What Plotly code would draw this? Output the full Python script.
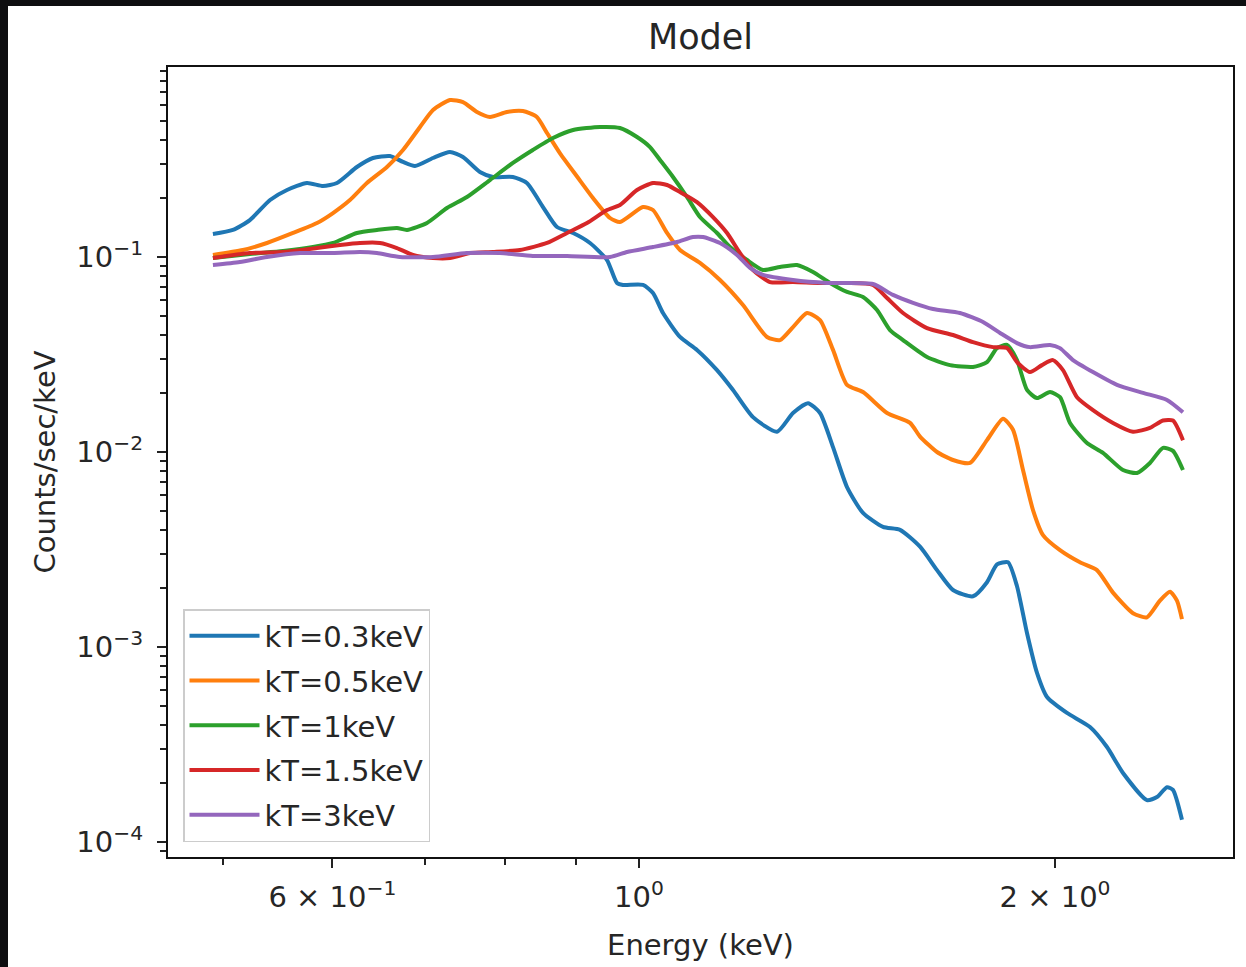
import plotly.graph_objects as go

# ---- data (Energy in keV, Counts/sec/keV) ----
E_03 = [0.4917, 0.5083, 0.5229, 0.5408, 0.5563, 0.5751, 0.5907, 0.6046, 0.6250, 0.6419,
        0.6604, 0.6749, 0.6885, 0.7095, 0.7298, 0.7458, 0.7672, 0.7840, 0.8105, 0.8296,
        0.8522, 0.8723, 0.8960, 0.9216, 0.9481, 0.9640, 0.9737, 1.0067, 1.0236, 1.0408,
        1.0707, 1.1014, 1.1388, 1.1696, 1.2092, 1.2585, 1.2925, 1.3252, 1.3520, 1.3816,
        1.4142, 1.4524, 1.5016, 1.5448, 1.5971, 1.6430, 1.6874, 1.7445, 1.7857, 1.8157,
        1.8493, 1.8772, 1.9087, 1.9408, 1.9734, 2.0402, 2.1199, 2.1808, 2.2397, 2.3310,
        2.3702, 2.4100, 2.4342, 2.4710]
C_03 = [0.1312, 0.1376, 0.1547, 0.1960, 0.2206, 0.2396, 0.2312, 0.2396, 0.2894, 0.3219,
        0.3296, 0.3072, 0.2929, 0.3219, 0.3455, 0.3257, 0.2729, 0.2572, 0.2572, 0.2396,
        0.1804, 0.1425, 0.1328, 0.1180, 0.0965, 0.0736, 0.0719, 0.0719, 0.0654, 0.0516,
        0.0389, 0.0334, 0.0263, 0.0208, 0.0151, 0.0127, 0.01585, 0.0178, 0.01585, 0.0106,
        0.00661, 0.00487, 0.00413, 0.00399, 0.00327, 0.00248, 0.00196, 0.00182, 0.00215, 0.00265,
        0.00272, 0.00205, 0.00118, 0.000736, 0.000554, 0.000459, 0.000389, 0.000307, 0.000226, 0.000164,
        0.000170, 0.000191, 0.000185, 0.000130]

E_05 = [0.4917, 0.5169, 0.5380, 0.5619, 0.5848, 0.6006, 0.6178, 0.6355, 0.6571, 0.6749,
        0.6943, 0.7095, 0.7298, 0.7458, 0.7634, 0.7801, 0.8024, 0.8241, 0.8435, 0.8579,
        0.8767, 0.9019, 0.9262, 0.9529, 0.9688, 1.0067, 1.0236, 1.0478, 1.0707, 1.1069,
        1.1445, 1.1892, 1.2377, 1.2648, 1.2925, 1.3230, 1.3520, 1.3816, 1.4142, 1.4524,
        1.5117, 1.5708, 1.5971, 1.6430, 1.6874, 1.7358, 1.7857, 1.8340, 1.8647, 1.8961,
        1.9279, 1.9603, 2.0166, 2.0849, 2.1447, 2.2027, 2.2773, 2.3310, 2.3820, 2.4221,
        2.4505, 2.4710]
C_05 = [0.1024, 0.1086, 0.1180, 0.1328, 0.1494, 0.1681, 0.1960, 0.2396, 0.2894, 0.3538,
        0.4642, 0.5675, 0.6383, 0.6234, 0.5542, 0.5223, 0.5542, 0.5608, 0.5223, 0.4325,
        0.3400, 0.2587, 0.2007, 0.1585, 0.1512, 0.1804, 0.1742, 0.1328, 0.1086, 0.0932,
        0.0762, 0.0567, 0.0389, 0.0375, 0.0437, 0.0516, 0.0475, 0.0334, 0.0221, 0.0203,
        0.01585, 0.0141, 0.0120, 0.0100, 0.00910, 0.00879, 0.0115, 0.0148, 0.0130, 0.00808,
        0.00504, 0.00375, 0.00314, 0.00272, 0.00248, 0.00190, 0.00149, 0.00142, 0.00173, 0.00192,
        0.00173, 0.00139]

E_1 = [0.4917, 0.5229, 0.5526, 0.5809, 0.6006, 0.6250, 0.6462, 0.6681, 0.6794, 0.7024,
       0.7262, 0.7508, 0.7801, 0.8105, 0.8379, 0.8665, 0.8960, 0.9371, 0.9688, 0.9967,
       1.0185, 1.0356, 1.0583, 1.0832, 1.1069, 1.1388, 1.1638, 1.1972, 1.2295, 1.2648,
       1.3011, 1.3363, 1.3747, 1.4142, 1.4524, 1.4867, 1.5192, 1.5525, 1.6158, 1.6790,
       1.7445, 1.7857, 1.8157, 1.8462, 1.8772, 1.9087, 1.9408, 1.9833, 2.0166, 2.0505,
       2.1093, 2.1663, 2.2397, 2.2926, 2.3427, 2.3940, 2.4342, 2.4751]
C_1 = [0.0988, 0.1036, 0.1073, 0.1125, 0.1180, 0.1328, 0.1376, 0.1409, 0.1376, 0.1494,
       0.1783, 0.2031, 0.2482, 0.3036, 0.3538, 0.4076, 0.4480, 0.4642, 0.4587, 0.4125,
       0.3664, 0.3145, 0.2572, 0.2031, 0.1603, 0.1328, 0.1125, 0.0965, 0.0858, 0.0889,
       0.0910, 0.0838, 0.0736, 0.0662, 0.0624, 0.0535, 0.0422, 0.0375, 0.0307, 0.0279,
       0.0273, 0.0289, 0.0341, 0.0354, 0.0296, 0.0208, 0.0189, 0.0203, 0.0191, 0.0141,
       0.01112, 0.0099, 0.00808, 0.00781, 0.00879, 0.0105, 0.01013, 0.00808]

E_15 = [0.4917, 0.5229, 0.5526, 0.5848, 0.6076, 0.6282, 0.6495, 0.6681, 0.6862, 0.7095,
        0.7298, 0.7546, 0.7840, 0.8200, 0.8579, 0.8870, 0.9170, 0.9481, 0.9688, 0.9967,
        1.0236, 1.0478, 1.0707, 1.1014, 1.1312, 1.1580, 1.1833, 1.2092, 1.2439, 1.2925,
        1.3520, 1.4142, 1.4768, 1.5117, 1.5525, 1.6158, 1.6874, 1.7445, 1.8037, 1.8462,
        1.8772, 1.9183, 1.9570, 1.9932, 2.0267, 2.0745, 2.1305, 2.2027, 2.2773, 2.3427,
        2.3940, 2.4342, 2.4751]
C_15 = [0.0988, 0.1048, 0.1061, 0.1112, 0.1152, 0.1180, 0.1180, 0.1112, 0.1024, 0.0988,
        0.0988, 0.1048, 0.1061, 0.1086, 0.1180, 0.1328, 0.1494, 0.1742, 0.1848, 0.2206,
        0.2396, 0.2340, 0.2154, 0.1914, 0.1603, 0.1328, 0.1048, 0.0858, 0.0744, 0.0744,
        0.0736, 0.0736, 0.0719, 0.0616, 0.0516, 0.0432, 0.0398, 0.0366, 0.0345, 0.0341,
        0.0289, 0.0257, 0.0279, 0.0296, 0.0263, 0.0191, 0.0164, 0.0141, 0.0127, 0.0133,
        0.0145, 0.0145, 0.0115]

E_3 = [0.4917, 0.5143, 0.5380, 0.5685, 0.6006, 0.6282, 0.6462, 0.6715, 0.7095, 0.7508,
       0.7931, 0.8379, 0.8870, 0.9529, 0.9802, 1.0236, 1.0654, 1.0941, 1.1125, 1.1445,
       1.1774, 1.2032, 1.2295, 1.2925, 1.3679, 1.4768, 1.5268, 1.5786, 1.6321, 1.7071,
       1.7738, 1.8248, 1.8772, 1.9183, 1.9833, 2.0166, 2.0607, 2.1305, 2.2174, 2.3156,
       2.4100, 2.4751]
C_3 = [0.0910, 0.0943, 0.1000, 0.1048, 0.1048, 0.1061, 0.1048, 0.1000, 0.1000, 0.1048,
       0.1048, 0.1012, 0.1012, 0.1000, 0.1061, 0.1125, 0.1194, 0.1266, 0.1266, 0.1180,
       0.1024, 0.0879, 0.0809, 0.0762, 0.0736, 0.0727, 0.0639, 0.0582, 0.0541, 0.0516,
       0.0464, 0.0408, 0.0362, 0.0345, 0.0354, 0.0341, 0.0296, 0.0257, 0.0221, 0.0201,
       0.0185, 0.0160]

series_names = ["kT=0.3keV", "kT=0.5keV", "kT=1keV", "kT=1.5keV", "kT=3keV"]
series_E = [E_03, E_05, E_1, E_15, E_3]
series_C = [C_03, C_05, C_1, C_15, C_3]
colors = ["#1f77b4", "#ff7f0e", "#2ca02c", "#d62728", "#9467bd"]

x_tickvals = [0.6, 1, 2]
x_ticktext = ["6 \u00d7 10<sup>\u22121</sup>", "10<sup>0</sup>", "2 \u00d7 10<sup>0</sup>"]
x_minor = [0.5, 0.7, 0.8, 0.9]
y_tickvals = [1e-4, 1e-3, 1e-2, 1e-1]
y_ticktext = ["10<sup>\u22124</sup>", "10<sup>\u22123</sup>", "10<sup>\u22122</sup>", "10<sup>\u22121</sup>"]
y_minor = [9e-5] + [m * 10.0 ** k for k in (-4, -3, -2, -1) for m in range(2, 10)]

FONT = "DejaVu Sans"
TXT = "#262626"

fig = go.Figure()
for i, (name, E, C) in enumerate(zip(series_names, series_E, series_C)):
    fig.add_trace(go.Scatter(
        x=E, y=C, mode="lines", name=name, legendgroup=f"g{i}",
        line=dict(color=colors[i], width=4, shape="spline", smoothing=0.6),
    ))

W, H = 1246, 967
L, R, T, B = 168, 13, 67, 110
pw, ph = W - L - R, H - T - B

fig.update_layout(
    width=W, height=H,
    margin=dict(l=L, r=R, t=T, b=B, autoexpand=False),
    paper_bgcolor="#0e0e10",
    plot_bgcolor="white",
    font=dict(family=FONT, size=29, color=TXT),
    title=dict(text="Model", x=(L + pw / 2) / W, xanchor="center",
               y=1 - 37 / H, yanchor="middle", font=dict(size=35, color=TXT)),
    showlegend=True,
    legend=dict(
        x=(183 - L) / pw, y=(H - B - 842) / ph, xanchor="left", yanchor="bottom",
        bgcolor="rgba(255,255,255,0.85)", bordercolor="#cccccc", borderwidth=1.5,
        font=dict(size=29, color=TXT), tracegroupgap=4, itemwidth=70,
    ),
    shapes=[dict(type="rect", xref="paper", yref="paper", layer="below",
                 x0=(8 - L) / pw, x1=(W + 20 - L) / pw,
                 y0=-(B + 20) / ph, y1=(H - B - 6) / ph,
                 fillcolor="white", line=dict(width=0))],
)

fig.update_xaxes(
    type="log", range=[-0.3408, 0.4298],
    tickmode="array", tickvals=x_tickvals, ticktext=x_ticktext,
    ticks="outside", ticklen=9, tickwidth=2, tickcolor="#222",
    minor=dict(tickmode="array", tickvals=x_minor, ticks="outside", ticklen=6,
               tickwidth=1.6, tickcolor="#222"),
    showline=True, linecolor="#111", linewidth=2.2, mirror=True,
    showgrid=False, zeroline=False, ticklabelstandoff=4,
    title=dict(text="Energy (keV)", standoff=22, font=dict(size=29, color=TXT)),
)
fig.update_yaxes(
    type="log", range=[-4.0769, -0.0256],
    tickmode="array", tickvals=y_tickvals, ticktext=y_ticktext,
    ticks="outside", ticklen=9, tickwidth=2, tickcolor="#222",
    minor=dict(tickmode="array", tickvals=y_minor, ticks="outside", ticklen=6,
               tickwidth=1.6, tickcolor="#222"),
    showline=True, linecolor="#111", linewidth=2.2, mirror=True,
    showgrid=False, zeroline=False, ticklabelstandoff=8,
    title=dict(text="Counts/sec/keV", standoff=12, font=dict(size=29, color=TXT)),
)

fig.write_html("out.html")
